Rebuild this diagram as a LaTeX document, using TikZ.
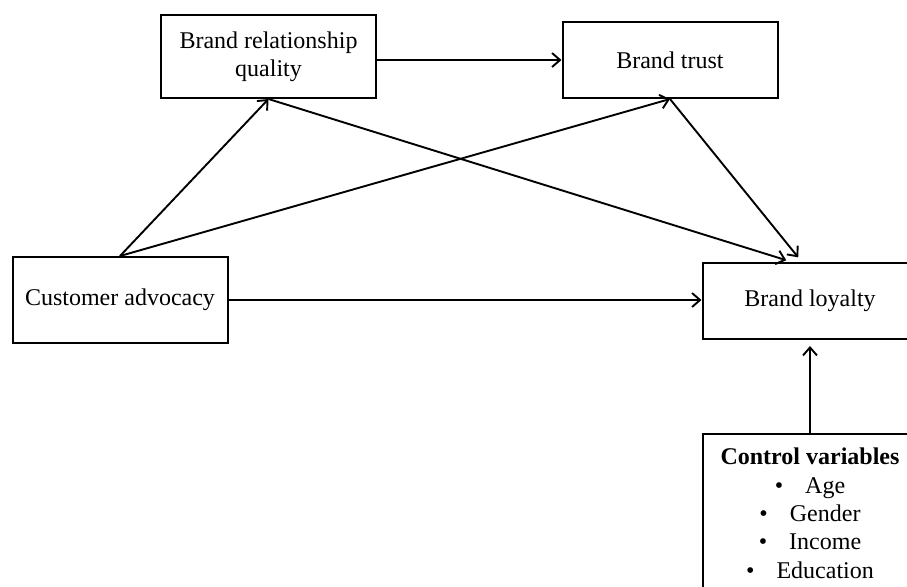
\documentclass[tikz,border=0pt]{standalone}
\usepackage{fontspec}
\setmainfont{Liberation Serif}
\usetikzlibrary{arrows.meta}

\begin{document}
\begin{tikzpicture}[x=0.5pt, y=-0.5pt,
  box/.style={draw, line width=1pt, minimum width=107.5pt, align=center,
    font=\fontsize{12}{14.2}\selectfont},
  link/.style={->, line width=0.95pt},
  >={Straight Barb[length=4pt,width=7pt]}]
\clip (0,0) rectangle (907,586);

\node[box, minimum height=41.5pt] (brq) at (268.5,56.5) {Brand relationship\\quality};
\node[box, minimum height=38pt] (bt) at (670,60) {Brand trust};
\node[box, minimum height=43pt] (ca) at (120,300) {Customer advocacy};
\node[box, minimum height=38pt] (bl) at (810,301) {Brand loyalty};
% control box runs off the bottom
\node[box, anchor=north, inner ysep=7pt, text depth=15pt] (cv) at (810,433)
  {\textbf{Control variables}\\
   \textbullet\hspace{11pt}Age\\
   \textbullet\hspace{11pt}Gender\\
   \textbullet\hspace{11pt}Income\\
   \textbullet\hspace{11pt}Education};

\draw[link] (brq.east |- bt.west) -- (bt.west);
\draw[link] (ca.north) -- (brq.south);
\draw[link] (ca.north) -- (bt.south);
\draw[link, shorten >=3pt] (brq.south) -- ([xshift=-9pt]bl.north);
\draw[link, shorten >=3pt] (bt.south) -- ([xshift=-4pt]bl.north);
\draw[link] (ca.east) -- (ca.east -| bl.west);
\draw[link, shorten >=3pt] (cv.north) -- (bl.south);
\end{tikzpicture}
\end{document}
